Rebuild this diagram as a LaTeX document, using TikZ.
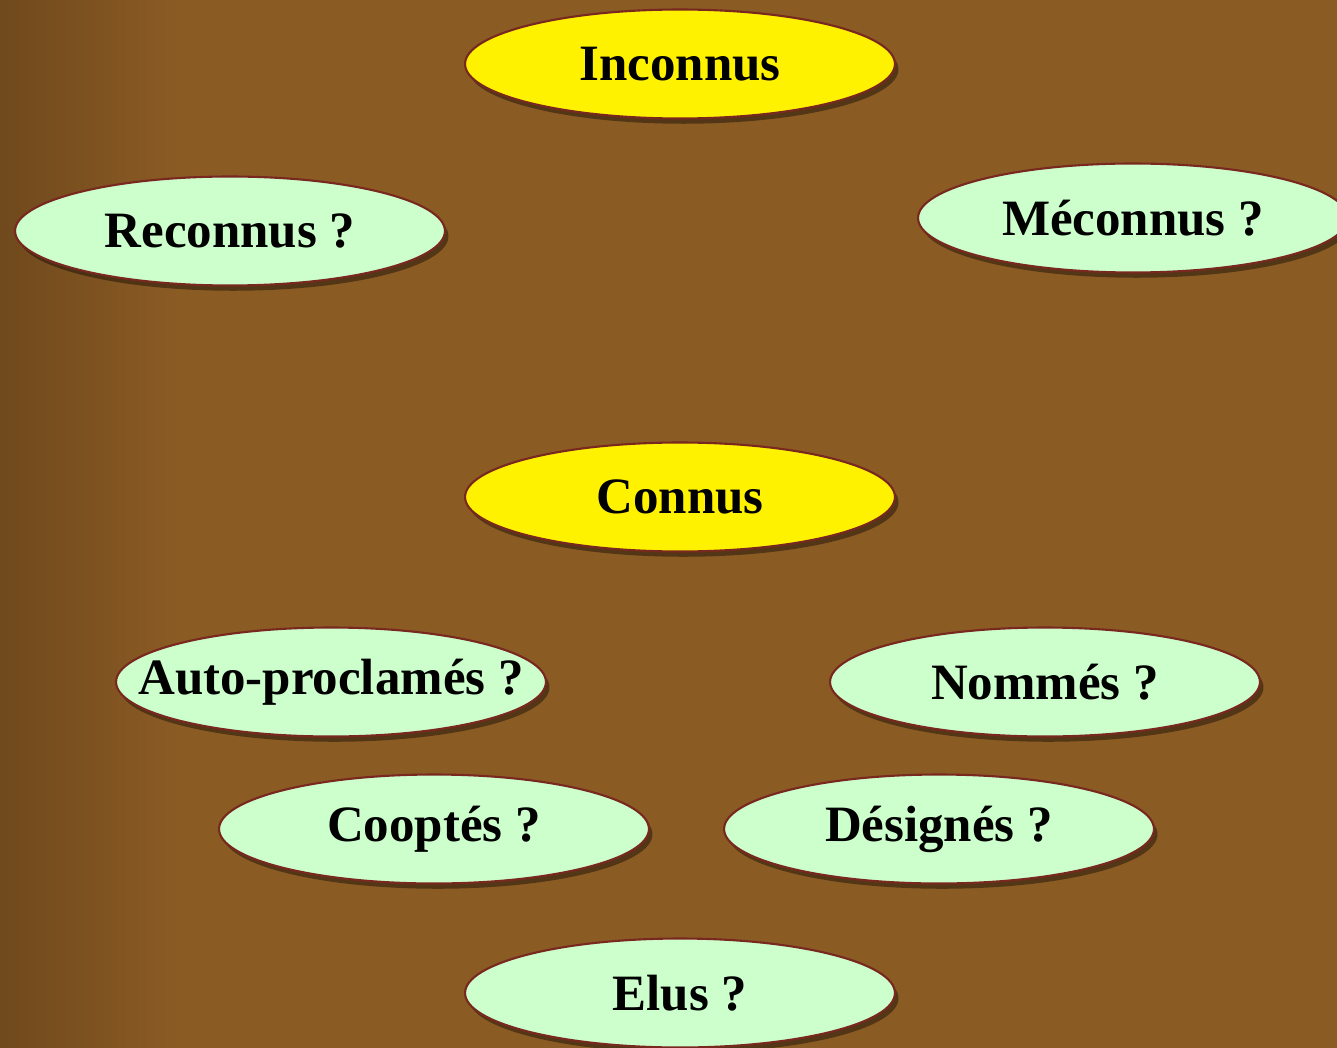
\documentclass[tikz,border=0pt]{standalone}
\usepackage{fontspec}
\setmainfont{Liberation Serif}
\usepackage{tikz}
\usetikzlibrary{shapes.geometric, positioning, shadows}

\definecolor{leather}{RGB}{139,91,36}
\definecolor{leatherdark}{RGB}{110,72,28}
\definecolor{mint}{RGB}{204,255,204}
\definecolor{rim}{RGB}{120,40,30}

\newcommand{\bubtext}[1]{\makebox[0pt]{#1}}

\begin{document}
\begin{tikzpicture}[x=0.02cm, y=-0.02cm,
    bubble/.style={ellipse, draw=rim, line width=1.2pt, fill=mint, minimum width=8.6cm, minimum height=2.18cm, inner sep=0pt, font=\fontsize{29}{34}\selectfont\bfseries,
        drop shadow={shadow xshift=2pt, shadow yshift=-3pt, opacity=0.4, fill=black}},
    head/.style={bubble, fill=yellow}]

    % Hintergrund
    \useasboundingbox (0,0) rectangle (1337,1047);
    \clip (0,0) rectangle (1337,1047);
    \fill [leather] (-10,-10) rectangle (1350,1060);
    \shade [left color=leatherdark, right color=leather] (-10,-10) rectangle (180,1060);

    % Nodes
    \node [head] (inconnus) at (680,64) {\bubtext{Inconnus}};
    \node [bubble] (reconnus) at (230,231) {\bubtext{Reconnus ?}};
    \node [bubble] (meconnus) at (1133,218) {\bubtext{Méconnus ?}};

    \node [head] (connus) at (680,497) {\bubtext{Connus}};
    \node [bubble] (auto) at (331,682) {\bubtext{Auto-proclamés ?}};
    \node [bubble] (nommes) at (1045,682) {\bubtext{Nommés ?}};
    \node [bubble] (cooptes) at (434,829) {\bubtext{Cooptés ?}};
    \node [bubble, right=1.46cm of cooptes] (designes) {\bubtext{Désignés ?}};
    \node [bubble] (elus) at (680,993) {\bubtext{Elus ?}};

\end{tikzpicture}
\end{document}
